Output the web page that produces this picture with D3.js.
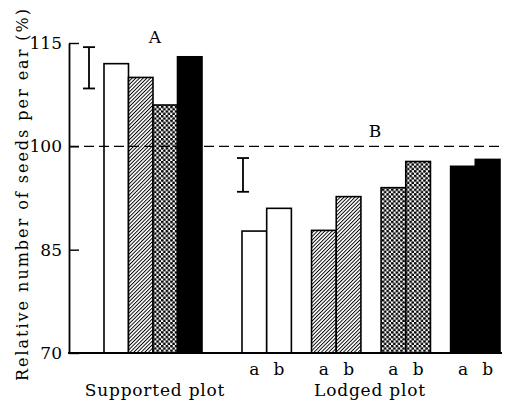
<!DOCTYPE html>
<html>

<head>
    <script type="text/javascript" src="https://d3js.org/d3.v7.min.js"></script>
    <style>
        body { margin: 0; background: #fff; }
        text { font-family: "DejaVu Serif", serif; fill: #000; }
    </style>
</head>

<body>
    <script>
        // drawing area same as the picture
        var width = 509;
        var height = 405;

        // the four treatments (white, hatched, dotted, black)
        var treatments = ['I', 'II', 'III', 'IV'];
        var fills = ['#fff', 'url(#hatch)', 'url(#dots)', '#000'];

        // supported plot, one bar per treatment
        var supported = [112, 110, 106, 113];

        // lodged plot, a and b per treatment
        var subs = ['a', 'b'];
        var lodgedA = [87.7, 87.8, 94.0, 97.1];
        var lodgedB = [91.0, 92.7, 97.8, 98.1];

        // LSD bars
        var errA = [108.4, 114.4];
        var errB = [93.4, 98.3];

        var yTicks = [70, 85, 100, 115];

        var svg = d3.select('body').append('svg').attr('width', width).attr('height', height);

        // fill patterns
        var defs = svg.append('defs');
        var hatch = defs.append('pattern').attr('id', 'hatch')
            .attr('patternUnits', 'userSpaceOnUse').attr('width', 2.6).attr('height', 2.6)
            .attr('patternTransform', 'rotate(45)');
        hatch.append('rect').attr('width', 2.6).attr('height', 2.6).attr('fill', '#fff');
        hatch.append('line').attr('x1', 0).attr('y1', 0).attr('x2', 0).attr('y2', 2.6)
            .attr('stroke', '#000').attr('stroke-width', 1.9);

        var dots = defs.append('pattern').attr('id', 'dots')
            .attr('patternUnits', 'userSpaceOnUse').attr('width', 4.6).attr('height', 4.6);
        dots.append('rect').attr('width', 4.6).attr('height', 4.6).attr('fill', '#fff');
        dots.append('circle').attr('cx', 1.15).attr('cy', 1.15).attr('r', 1.45).attr('fill', '#000');
        dots.append('circle').attr('cx', 3.45).attr('cy', 3.45).attr('r', 1.45).attr('fill', '#000');

        // scales
        var y = d3.scaleLinear().domain([70, 115]).range([353, 43]);
        var xSup = d3.scaleBand().domain(treatments).range([104, 202]);
        var xLod = d3.scaleBand().domain(treatments).range([242, 500]).paddingInner(0.29);
        var xSub = d3.scaleBand().domain(subs).range([0, xLod.bandwidth()]);

        // supported bars
        svg.selectAll('rect.sup')
            .data(supported)
            .enter()
            .append('rect')
            .attr('class', 'sup')
            .attr('x', function(d, i) { return xSup(treatments[i]); })
            .attr('y', function(d) { return y(d); })
            .attr('width', xSup.bandwidth())
            .attr('height', function(d) { return y(70) - y(d); })
            .attr('fill', function(d, i) { return fills[i]; })
            .attr('stroke', '#000').attr('stroke-width', 1.6);

        // lodged bars
        var lodged = [];
        treatments.forEach(function(t, i) {
            lodged.push({ t: t, s: 'a', v: lodgedA[i], i: i });
            lodged.push({ t: t, s: 'b', v: lodgedB[i], i: i });
        });

        svg.selectAll('rect.lod')
            .data(lodged)
            .enter()
            .append('rect')
            .attr('class', 'lod')
            .attr('x', function(d) { return xLod(d.t) + xSub(d.s); })
            .attr('y', function(d) { return y(d.v); })
            .attr('width', xSub.bandwidth())
            .attr('height', function(d) { return y(70) - y(d.v); })
            .attr('fill', function(d) { return fills[d.i]; })
            .attr('stroke', '#000').attr('stroke-width', 1.6);

        // a b labels
        svg.selectAll('text.sub')
            .data(lodged)
            .enter()
            .append('text')
            .attr('class', 'sub')
            .attr('x', function(d) { return xLod(d.t) + xSub(d.s) + xSub.bandwidth() / 2; })
            .attr('y', 375)
            .attr('text-anchor', 'middle')
            .attr('font-size', 17)
            .text(function(d) { return d.s; });

        // dashed 100% line
        svg.append('line')
            .attr('x1', 69).attr('x2', 502)
            .attr('y1', y(100)).attr('y2', y(100))
            .attr('stroke', '#000').attr('stroke-width', 1.1)
            .attr('stroke-dasharray', '10,5');

        // y axis, ticks pointing inside
        var yAxis = d3.axisLeft(y).tickValues(yTicks).tickSizeInner(-10).tickSizeOuter(0).tickPadding(7);
        var ga = svg.append('g').attr('transform', 'translate(69,0)').call(yAxis);
        ga.select('.domain').attr('stroke-width', 1.8);
        ga.selectAll('.tick line').attr('stroke-width', 1.4);
        ga.selectAll('.tick text').attr('font-family', '"DejaVu Serif", serif').attr('font-size', 17);

        // baseline
        svg.append('line')
            .attr('x1', 68).attr('x2', 502)
            .attr('y1', y(70)).attr('y2', y(70))
            .attr('stroke', '#000').attr('stroke-width', 1.8);

        // LSD error bars
        function lsd(xc, r) {
            var g = svg.append('g').attr('stroke', '#000').attr('stroke-width', 1.8);
            g.append('line').attr('x1', xc).attr('x2', xc).attr('y1', y(r[0])).attr('y2', y(r[1]));
            g.append('line').attr('x1', xc - 6).attr('x2', xc + 6).attr('y1', y(r[0])).attr('y2', y(r[0]));
            g.append('line').attr('x1', xc - 6).attr('x2', xc + 6).attr('y1', y(r[1])).attr('y2', y(r[1]));
        }
        lsd(xSup.range()[0] - 15, errA);
        lsd(xLod.range()[0] + 1, errB);

        // panel letters
        svg.append('text').attr('x', (xSup.range()[0] + xSup.range()[1]) / 2 + 2).attr('y', 43)
            .attr('text-anchor', 'middle').attr('font-size', 17).text('A');
        svg.append('text').attr('x', 375).attr('y', 137)
            .attr('text-anchor', 'middle').attr('font-size', 17).text('B');

        // group labels
        svg.append('text').attr('x', 155).attr('y', 396)
            .attr('text-anchor', 'middle').attr('font-size', 17).attr('letter-spacing', 0.8).text('Supported plot');
        svg.append('text').attr('x', 370).attr('y', 396)
            .attr('text-anchor', 'middle').attr('font-size', 17).attr('letter-spacing', 0.8).text('Lodged plot');

        // y label
        svg.append('text')
            .attr('transform', 'translate(28,195) rotate(-90)')
            .attr('text-anchor', 'middle')
            .attr('font-size', 16)
            .attr('textLength', 372)
            .attr('lengthAdjust', 'spacing')
            .text('Relative number of seeds per ear (%)');
    </script>
</body>

</html>
